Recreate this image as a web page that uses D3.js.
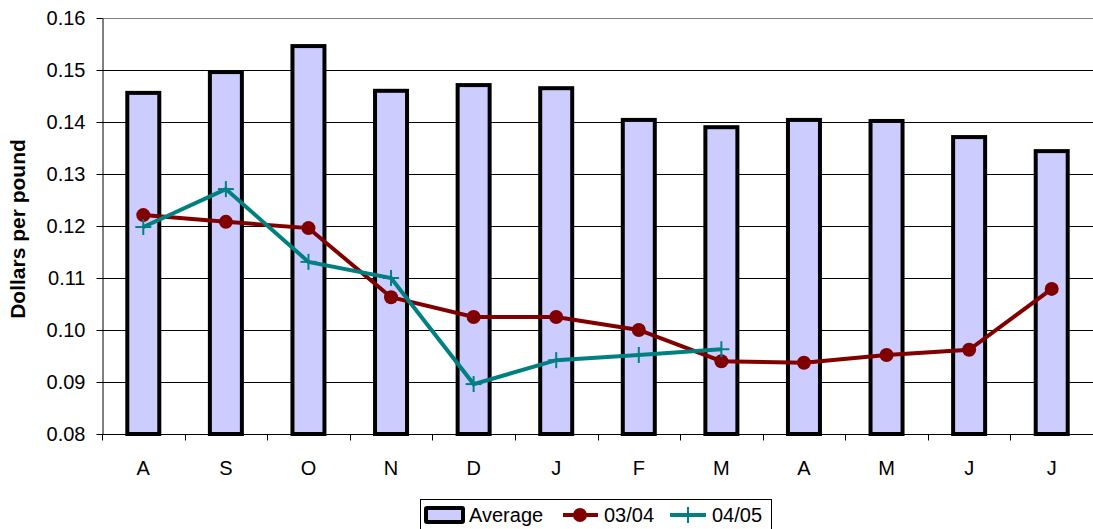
<!DOCTYPE html>
<html>
<head>
<meta charset="utf-8">
<script src="https://cdn.jsdelivr.net/npm/d3@7"></script>
<style>
  body { margin: 0; background: #fff; }
  svg { display: block; font-family: "Liberation Sans", Arial, sans-serif; }
</style>
</head>
<body>
<svg id="chart" width="1093" height="529"></svg>
<script>
const months = ['A', 'S', 'O', 'N', 'D', 'J', 'F', 'M', 'A', 'M', 'J', 'J'];
const average = [0.1456, 0.1496, 0.1546, 0.1460, 0.1471, 0.1465, 0.1404, 0.1390, 0.1404, 0.1402, 0.1371, 0.1344];
const season0304 = [0.1221, 0.1208, 0.1196, 0.1063, 0.1025, 0.1025, 0.1000, 0.0940, 0.0937, 0.0952, 0.0962, 0.1079];
const season0405 = [0.1198, 0.1271, 0.1131, 0.1100, 0.0896, 0.0942, 0.0952, 0.0963];
const yTicks = [0.08, 0.09, 0.10, 0.11, 0.12, 0.13, 0.14, 0.15, 0.16];

const margin = {left: 102, right: 0, top: 18, bottom: 95};
const width = 1093, height = 529;
const fontSize = 20;

const svg = d3.select('svg#chart');

const x = d3.scaleBand()
  .domain(d3.range(months.length))
  .range([margin.left, width - margin.right]);

const y = d3.scaleLinear()
  .domain([0.08, 0.16])
  .range([height - margin.bottom, margin.top]);

// Gridlines
svg.append('g')
  .selectAll('line')
  .data(yTicks.slice(1))
  .enter().append('line')
  .attr('x1', margin.left)
  .attr('x2', width - margin.right)
  .attr('y1', d => Math.round(y(d)) + 0.5)
  .attr('y2', d => Math.round(y(d)) + 0.5)
  .attr('stroke', d => d === 0.16 ? '#808080' : '#000')
  .attr('stroke-width', 1);

// Y axis
const yAxis = svg.append('g')
  .attr('transform', `translate(${margin.left + 0.5},0)`)
  .call(d3.axisLeft(y).tickValues(yTicks).tickFormat(d3.format('.2f')).tickSize(6).tickSizeOuter(0));
yAxis.select('.domain').attr('stroke', '#000');
yAxis.selectAll('.tick line').attr('stroke', '#000');
yAxis.selectAll('.tick text')
  .attr('font-size', fontSize)
  .attr('fill', '#000')
  .attr('x', -17)
  .attr('font-family', '"Liberation Sans", Arial, sans-serif');

// X axis
const xAxisY = Math.round(y(0.08)) + 0.5;
const xg = svg.append('g');
xg.append('line')
  .attr('x1', margin.left)
  .attr('x2', width - margin.right)
  .attr('y1', xAxisY)
  .attr('y2', xAxisY)
  .attr('stroke', '#000');
xg.selectAll('line.tick')
  .data(d3.range(months.length + 1))
  .enter().append('line')
  .attr('class', 'tick')
  .attr('x1', d => Math.round(margin.left + d * x.step()) + 0.5)
  .attr('x2', d => Math.round(margin.left + d * x.step()) + 0.5)
  .attr('y1', xAxisY)
  .attr('y2', xAxisY + 6)
  .attr('stroke', '#000');
xg.selectAll('text')
  .data(months)
  .enter().append('text')
  .attr('x', (d, i) => x(i) + x.bandwidth() / 2)
  .attr('y', xAxisY + 40)
  .attr('text-anchor', 'middle')
  .attr('font-size', fontSize)
  .text(d => d);

// Y label
svg.append('text')
  .attr('transform', `translate(25,${(margin.top + height - margin.bottom) / 2 + 3}) rotate(-90)`)
  .attr('text-anchor', 'middle')
  .attr('font-size', 21)
  .attr('font-weight', 'bold')
  .text('Dollars per pound');

// Bars
const barW = 32;
svg.append('g')
  .selectAll('rect')
  .data(average)
  .enter().append('rect')
  .attr('x', (d, i) => x(i) + x.bandwidth() / 2 - barW / 2)
  .attr('y', d => y(d))
  .attr('width', barW)
  .attr('height', d => y(0.08) - y(d))
  .attr('fill', '#ccccff')
  .attr('stroke', '#000')
  .attr('stroke-width', 4);

// Lines
const line = d3.line()
  .x((d, i) => x(i) + x.bandwidth() / 2)
  .y(d => y(d));

svg.append('path')
  .datum(season0304)
  .attr('fill', 'none')
  .attr('stroke', '#800000')
  .attr('stroke-width', 4)
  .attr('d', line);

svg.append('g')
  .selectAll('circle')
  .data(season0304)
  .enter().append('circle')
  .attr('cx', (d, i) => x(i) + x.bandwidth() / 2)
  .attr('cy', d => y(d))
  .attr('r', 7)
  .attr('fill', '#800000');

svg.append('path')
  .datum(season0405)
  .attr('fill', 'none')
  .attr('stroke', '#008080')
  .attr('stroke-width', 4)
  .attr('d', line);

const plus = svg.append('g')
  .selectAll('g')
  .data(season0405)
  .enter().append('g')
  .attr('transform', (d, i) => `translate(${x(i) + x.bandwidth() / 2},${y(d)})`);
plus.append('line').attr('x1', -8).attr('x2', 8).attr('stroke', '#008080').attr('stroke-width', 2);
plus.append('line').attr('y1', -8).attr('y2', 8).attr('stroke', '#008080').attr('stroke-width', 2);

// Legend
const lg = svg.append('g').attr('transform', 'translate(420,499)');
lg.append('rect')
  .attr('x', 0.5).attr('y', 0.5)
  .attr('width', 351).attr('height', 40)
  .attr('fill', '#fff')
  .attr('stroke', '#000');
lg.append('rect')
  .attr('x', 6).attr('y', 9)
  .attr('width', 37).attr('height', 14)
  .attr('fill', '#ccccff')
  .attr('stroke', '#000')
  .attr('stroke-width', 4)
  .attr('rx', 1);
lg.append('text').attr('x', 49).attr('y', 23).attr('font-size', fontSize).text('Average');
lg.append('line').attr('x1', 143).attr('x2', 178).attr('y1', 16).attr('y2', 16)
  .attr('stroke', '#800000').attr('stroke-width', 4);
lg.append('circle').attr('cx', 160).attr('cy', 16).attr('r', 7).attr('fill', '#800000');
lg.append('text').attr('x', 184).attr('y', 23).attr('font-size', fontSize).text('03/04');
lg.append('line').attr('x1', 250).attr('x2', 286).attr('y1', 16).attr('y2', 16)
  .attr('stroke', '#008080').attr('stroke-width', 4);
lg.append('line').attr('x1', 268).attr('x2', 268).attr('y1', 8).attr('y2', 24)
  .attr('stroke', '#008080').attr('stroke-width', 2);
lg.append('text').attr('x', 292).attr('y', 23).attr('font-size', fontSize).text('04/05');
</script>
</body>
</html>
